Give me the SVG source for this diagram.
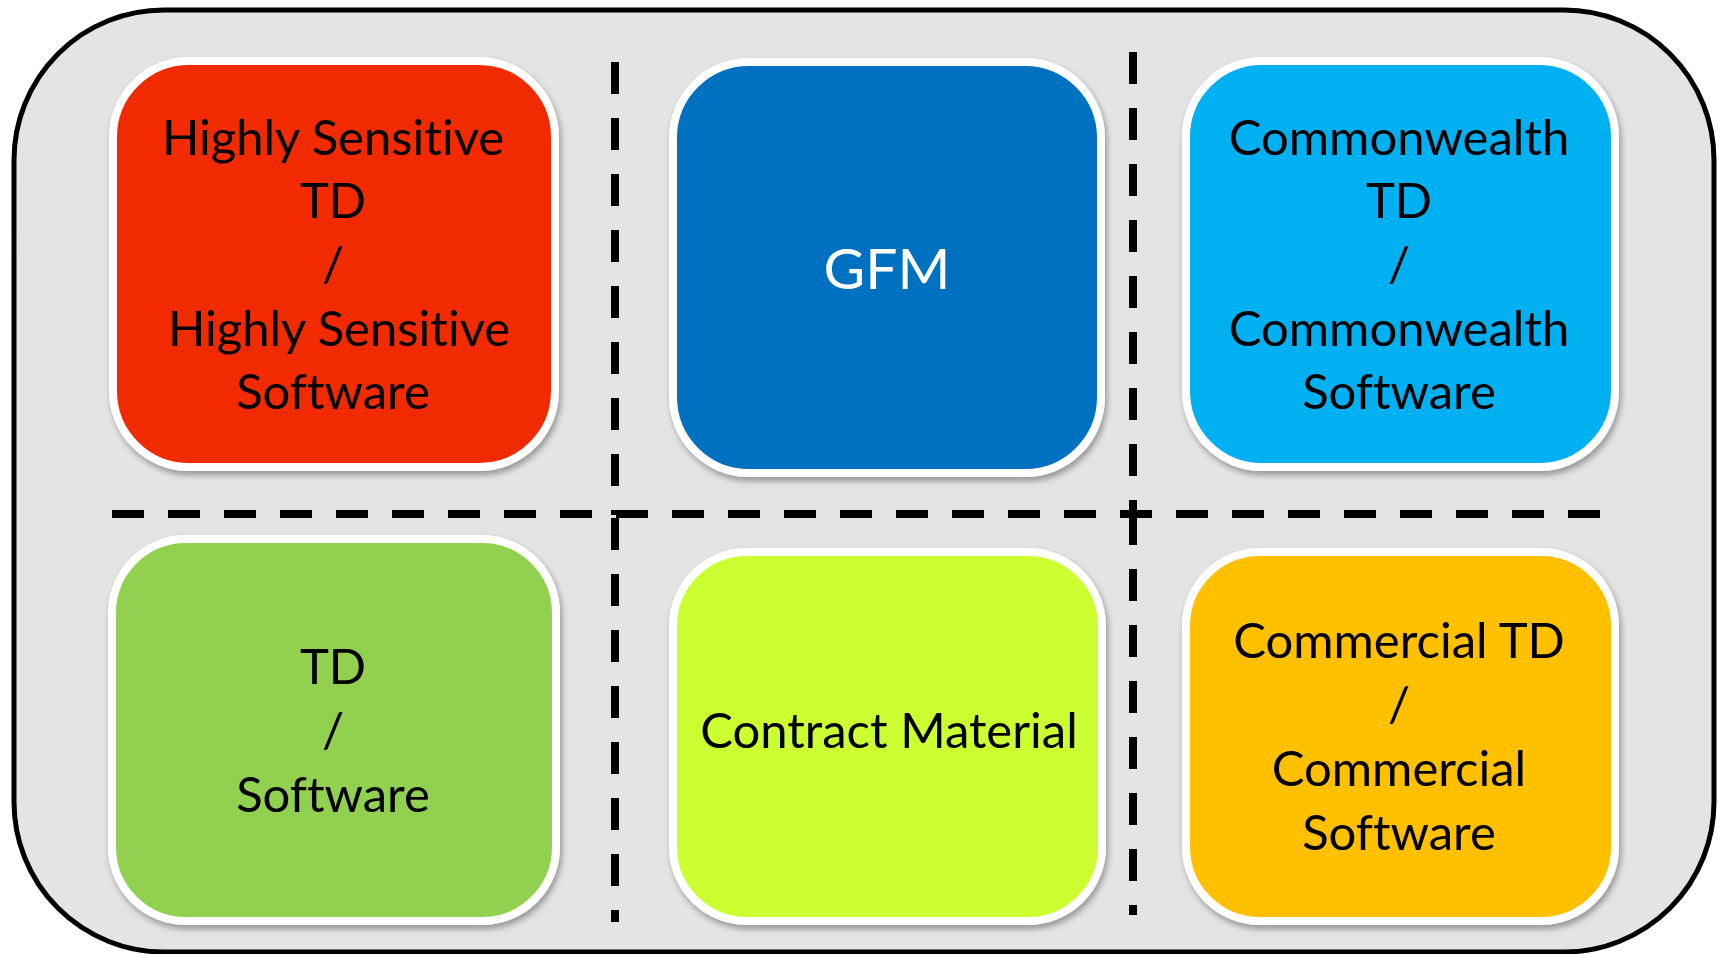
<svg xmlns="http://www.w3.org/2000/svg" width="1718" height="954" viewBox="0 0 1718 954">
  <defs>
    <filter id="sh" x="-10%" y="-10%" width="125%" height="125%">
      <feDropShadow dx="2" dy="4" stdDeviation="3" flood-color="#000" flood-opacity="0.35"/>
    </filter>
  </defs>
  <style>
    .box { stroke: #ffffff; stroke-width: 8; filter: url(#sh); }
    .lbl { font-family: Lato, "Open Sans", "Liberation Sans", sans-serif; font-size: 49px; fill: #000; text-anchor: middle; font-variant-ligatures: none; font-feature-settings: "liga" 0, "clig" 0; }
    .div { stroke: #000; stroke-width: 8; stroke-dasharray: 32 24; fill: none; }
  </style>
  <rect id="frame" x="14" y="10" width="1700" height="942" rx="150" ry="150" fill="#e4e4e4" stroke="#000" stroke-width="5"/>

  <g id="dividers">
    <line class="div" x1="615" y1="62" x2="615" y2="515"/>
    <line class="div" x1="615" y1="518" x2="615" y2="922"/>
    <line class="div" x1="1133" y1="52" x2="1133" y2="520"/>
    <line class="div" x1="1133" y1="513" x2="1133" y2="915"/>
    <line class="div" x1="112" y1="514" x2="1600" y2="514"/>
  </g>

  <g id="highly-sensitive">
    <rect class="box" x="113" y="61" width="442" height="406" rx="76" fill="#f22b00"/>
    <text class="lbl" x="333" y="155">Highly Sensitive</text>
    <text class="lbl" x="333" y="218">TD</text>
    <text class="lbl" x="333" y="282">/</text>
    <text class="lbl" x="339" y="346">Highly Sensitive</text>
    <text class="lbl" x="333" y="409">Software</text>
  </g>

  <g id="gfm">
    <rect class="box" x="673" y="62" width="428" height="411" rx="76" fill="#0070c0"/>
    <text class="lbl" x="887" y="289" style="font-size:57px;fill:#ffffff">GFM</text>
  </g>

  <g id="commonwealth">
    <rect class="box" x="1186" y="61" width="429" height="406" rx="76" fill="#00b0f0"/>
    <text class="lbl" x="1399" y="155">Commonwealth</text>
    <text class="lbl" x="1399" y="218">TD</text>
    <text class="lbl" x="1399" y="282">/</text>
    <text class="lbl" x="1399" y="346">Commonwealth</text>
    <text class="lbl" x="1399" y="409">Software</text>
  </g>

  <g id="td-software">
    <rect class="box" x="112" y="539" width="444" height="382" rx="74" fill="#92d050"/>
    <text class="lbl" x="333" y="684">TD</text>
    <text class="lbl" x="333" y="748">/</text>
    <text class="lbl" x="333" y="812">Software</text>
  </g>

  <g id="contract-material">
    <rect class="box" x="673" y="552" width="429" height="369" rx="74" fill="#ccff33"/>
    <text class="lbl" x="889" y="748">Contract Material</text>
  </g>

  <g id="commercial">
    <rect class="box" x="1186" y="552" width="429" height="369" rx="74" fill="#ffc000"/>
    <text class="lbl" x="1399" y="658">Commercial TD</text>
    <text class="lbl" x="1399" y="722">/</text>
    <text class="lbl" x="1399" y="786">Commercial</text>
    <text class="lbl" x="1399" y="850">Software</text>
  </g>
</svg>
